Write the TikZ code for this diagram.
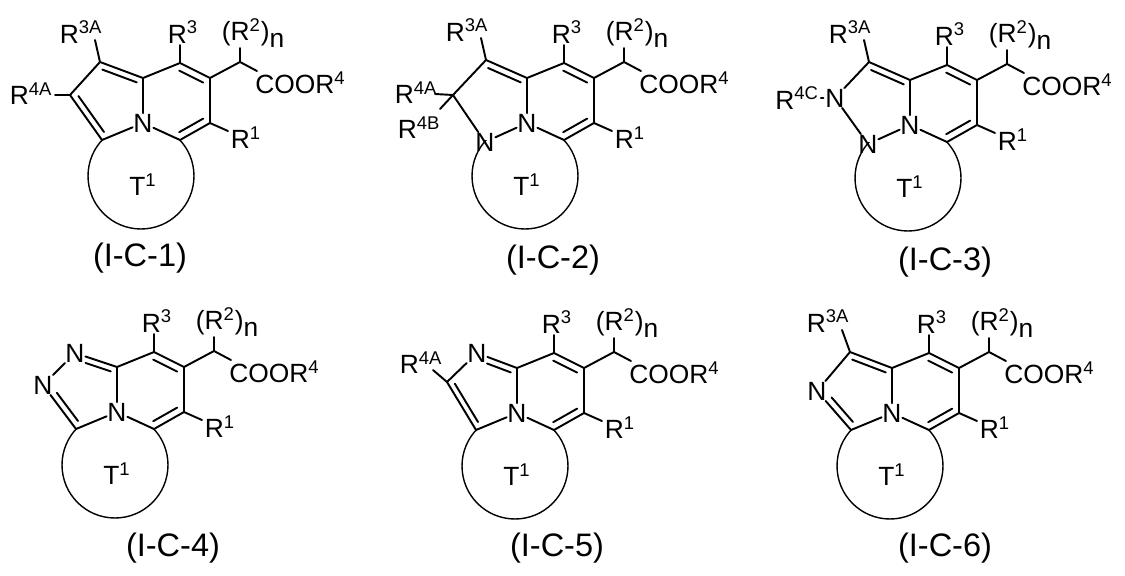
\documentclass[tikz,border=0pt]{standalone}
\usepackage{fontspec}
\setmainfont{Liberation Sans}
\usetikzlibrary{calc}
\tikzset{
  atom/.style={inner sep=0.3pt, font=\fontsize{15}{17}\selectfont},
  lbl/.style={inner sep=0pt, font=\fontsize{15}{17}\selectfont},
  captxt/.style={inner sep=0pt, font=\fontsize{18.5}{21}\selectfont},
  bond/.style={line width=1.1pt, line cap=round},
  ring/.style={line width=0.8pt}
}
\newcommand\dbl[5]{\draw[bond, shorten <=#4, shorten >=#5] ($(#1)!.2!(#3)$) -- ($(#2)!.2!(#3)$);}
\newcommand\common{%
  \node[atom] (N) at (0,0) {N};
  \coordinate (C8a) at (0,-45);
  \coordinate (C3) at (37,-60);
  \coordinate (C4) at (67,-45);
  \coordinate (C5) at (67,0);
  \coordinate (Cbr) at (37,17);
  \coordinate (Cbl) at (-41,17);
  \coordinate (CH) at (97,-61);
  \coordinate (pc) at (33,-22);
  \coordinate (fc) at (-31,-23);
  \draw[bond] (N) -- (C8a) -- (C3) -- (C4) -- (C5) -- (Cbr) -- (N);
  \dbl{C3}{C4}{pc}{0pt}{0pt}
  \dbl{C5}{Cbr}{pc}{0pt}{0pt}
  \coordinate (r3e) at (37,-78);
  \draw[bond] (C3) -- (r3e);
  \node[lbl] (R3) at (40,-91) {R\textsuperscript{3}};
  \coordinate (che) at (114,-52);
  \coordinate (chu) at (97,-75);
  \draw[bond] (C4) -- (CH) -- (che);
  \draw[bond] (CH) -- (chu);
  \node[lbl] (R2) at (110,-90) {(R\textsuperscript{2})\raisebox{-0.45ex}{n}};
  \node[lbl, anchor=west] (COOR) at (112,-40) {COOR\textsuperscript{4}};
  \coordinate (r1e) at (85,8);
  \draw[bond] (C5) -- (r1e);
  \node[lbl] (R1) at (103,15) {R\textsuperscript{1}};
  \begin{scope}
    \clip (-100,17) rectangle (100,130);
    \draw[ring] (-2,53) circle[radius=1.06cm];
  \end{scope}
  \node[lbl] (T1) at (0,62) {T\textsuperscript{1}};
}
\begin{document}
\begin{tikzpicture}[x=0.02cm,y=-0.02cm]
\useasboundingbox (0,0) rectangle (1125,575);
% I-C-1
\begin{scope}[shift={(143,123)}]
  \common
  \coordinate (C3A) at (-43,-61);
  \coordinate (C4A) at (-73,-28);
  \draw[bond] (N) -- (Cbl) -- (C4A) -- (C3A) -- (C8a);
  \dbl{C3A}{C8a}{fc}{0pt}{0pt}
  \dbl{C4A}{Cbl}{fc}{0pt}{0pt}
  \coordinate (a1) at (-48,-83);
  \draw[bond] (C3A) -- (a1);
  \node[lbl] (R3A) at (-62,-91) {R\textsuperscript{3A}};
  \coordinate (a2) at (-88,-28);
  \draw[bond] (C4A) -- (a2);
  \node[lbl] (R4A) at (-112,-29) {R\textsuperscript{4A}};
\end{scope}
\node[captxt] (c1) at (140,258) {(I-C-1)};
% I-C-2
\begin{scope}[shift={(527,123)}]
  \common
  \coordinate (C3A) at (-41,-63);
  \coordinate (C4A) at (-74,-28);
  \node[atom] (N1) at (-42,19) {N};
  \draw[bond] (N) -- (N1) -- (C4A) -- (C3A) -- (C8a);
  \dbl{C3A}{C8a}{fc}{0pt}{0pt}
  \coordinate (a1) at (-46,-85);
  \draw[bond] (C3A) -- (a1);
  \node[lbl] (R3A) at (-60,-93) {R\textsuperscript{3A}};
  \coordinate (a2) at (-92,-29);
  \draw[bond] (C4A) -- (a2);
  \node[lbl] (R4A) at (-111,-30) {R\textsuperscript{4A}};
  \coordinate (a3) at (-87,-14);
  \draw[bond] (C4A) -- (a3);
  \node[lbl] (R4B) at (-108,5) {R\textsuperscript{4B}};
\end{scope}
\node[captxt] (c2) at (553,260) {(I-C-2)};
% I-C-3
\begin{scope}[shift={(910,125)}]
  \common
  \coordinate (C3A) at (-41,-63);
  \node[atom] (N4) at (-75,-27) {N};
  \node[atom] (N1) at (-42,19) {N};
  \draw[bond] (N) -- (N1) -- (N4) -- (C3A) -- (C8a);
  \dbl{C3A}{C8a}{fc}{0pt}{0pt}
  \coordinate (a1) at (-46,-85);
  \draw[bond] (C3A) -- (a1);
  \node[lbl] (R3A) at (-60,-93) {R\textsuperscript{3A}};
  \node[lbl] (R4C) at (-113,-27) {R\textsuperscript{4C}};
  \draw[bond] ([xshift=1pt]R4C.east) -- ([xshift=2.5pt]R4C.east);
\end{scope}
\node[captxt] (c3) at (945,262) {(I-C-3)};
% I-C-4
\begin{scope}[shift={(117,412)}]
  \common
  \node[atom] (Nt) at (-42,-59) {N};
  \node[atom] (Nl) at (-74,-27) {N};
  \draw[bond] (N) -- (Cbl) -- (Nl) -- (Nt) -- (C8a);
  \dbl{Nt}{C8a}{fc}{5pt}{0pt}
  \dbl{Nl}{Cbl}{fc}{5pt}{0pt}
\end{scope}
\node[captxt] (c4) at (173,548) {(I-C-4)};
% I-C-5
\begin{scope}[shift={(517,413)}]
  \common
  \node[atom] (Nt) at (-40,-60) {N};
  \coordinate (C4A) at (-70,-31);
  \draw[bond] (N) -- (Cbl) -- (C4A) -- (Nt) -- (C8a);
  \dbl{Nt}{C8a}{fc}{5pt}{0pt}
  \dbl{C4A}{Cbl}{fc}{0pt}{0pt}
  \coordinate (a2) at (-84,-43);
  \draw[bond] (C4A) -- (a2);
  \node[lbl] (R4A) at (-96,-50) {R\textsuperscript{4A}};
\end{scope}
\node[captxt] (c5) at (557,548) {(I-C-5)};
% I-C-6
\begin{scope}[shift={(892,413)}]
  \common
  \coordinate (C3A) at (-42,-61);
  \node[atom] (Nl) at (-75,-22) {N};
  \draw[bond] (N) -- (Cbl) -- (Nl) -- (C3A) -- (C8a);
  \dbl{C3A}{C8a}{fc}{0pt}{0pt}
  \dbl{Nl}{Cbl}{fc}{5pt}{0pt}
  \coordinate (a1) at (-50,-83);
  \draw[bond] (C3A) -- (a1);
  \node[lbl] (R3A) at (-64,-92) {R\textsuperscript{3A}};
\end{scope}
\node[captxt] (c6) at (945,548) {(I-C-6)};
\end{tikzpicture}
\end{document}
